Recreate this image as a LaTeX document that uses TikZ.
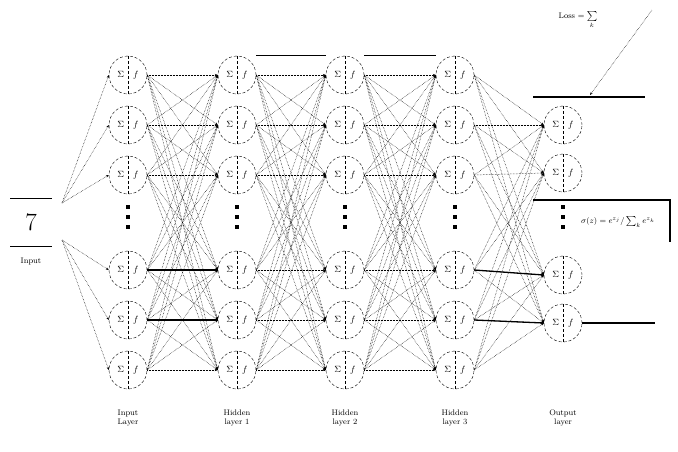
\documentclass[tikz,border=0pt]{standalone}
\usetikzlibrary{arrows.meta}
\begin{document}
\begin{tikzpicture}[x=1pt,y=-1pt,
 neuron/.style={circle,draw,densely dashed,minimum size=38pt,inner sep=0pt,font=\small},
 conn/.style={densely dotted,line width=0.5pt,-{Stealth[length=3pt]}},
 bar/.style={line width=1.3pt},
 lbl/.style={font=\footnotesize,align=center},
 dotmark/.style={fill=black,minimum size=3.2pt,inner sep=0pt}]
\useasboundingbox (0,0) rectangle (678,451);
% neurons
\foreach \l/\x in {1/128,2/237,3/345,4/455}{
  \foreach \r/\y in {1/75,2/125,3/175,4/270,5/320,6/370}{
    \node[neuron] (n\l-\r) at (\x,\y) {$\Sigma\quad f$};
    \draw[densely dashed] (n\l-\r.north) -- (n\l-\r.south);
  }
  \foreach \k/\y in {1/207,2/217,3/227}{\node[dotmark] (d\l-\k) at (\x,\y) {};}
}
\foreach \r/\y in {2/125,3/173,4/275,5/323}{
  \node[neuron] (n5-\r) at (563,\y) {$\Sigma\quad f$};
  \draw[densely dashed] (n5-\r.north) -- (n5-\r.south);
}
\foreach \k/\y in {1/207,2/217,3/227}{\node[dotmark] (d5-\k) at (563,\y) {};}
% input
\node[font=\fontsize{40}{40}\selectfont] (seven) at (31,222) {$7$};
\draw[line width=1pt] (10,198) -- (52,198) (10,246) -- (52,246);
\node[lbl] (inp) at (31,262) {Input};
\coordinate (ia) at (62,203);
\coordinate (ib) at (62,240);
\foreach \r in {1,2,3}{\draw[conn] (ia) -- (n1-\r.west);}
\foreach \r in {4,5,6}{\draw[conn] (ib) -- (n1-\r.west);}
% connections between layers
\foreach \l/\m in {1/2,2/3,3/4}{
  \foreach \r in {1,2,3,4,5,6}{
    \foreach \s in {1,2,3,4,5,6}{
      \draw[conn] (n\l-\r.east) -- (n\m-\s.west);
    }
  }
}
\foreach \r in {1,2,3,4,5,6}{
  \foreach \s in {2,3,4,5}{
    \draw[conn] (n4-\r.east) -- (n5-\s.west);
  }
}
% solid bars
\draw[bar] (n2-1.east |- n2-1.north) -- (n3-1.west |- n3-1.north);
\draw[bar] (n3-1.east |- n3-1.north) -- (n4-1.west |- n4-1.north);
\draw[bar] (n1-4.east) -- (n2-4.west);
\draw[bar] (n1-5.east) -- (n2-5.west);
\draw[bar] (n4-4.east) -- (n5-4.west);
\draw[bar] (n4-5.east) -- (n5-5.west);
\coordinate (outR) at (655,323);
\draw[bar] (n5-5.east) -- (outR);
% loss
\coordinate (lossL) at (533,97);
\coordinate (lossR) at (645,97);
\coordinate (lossM) at (590,95);
\draw[bar] (lossL) -- (lossR);
\node[font=\footnotesize] (loss) at (578,20) {Loss $=\sum\limits_{k}$};
\coordinate (lossT) at (652,10);
\draw[conn] (lossT) -- (lossM);
% softmax box
\coordinate (bxL) at (533,200);
\coordinate (bxR) at (670,200);
\coordinate (bxB) at (670,242);
\draw[bar] (bxL) -- (bxR) -- (bxB);
\node[font=\footnotesize] (soft) at (618,222) {$\sigma(z)=e^{z_j}/\sum_k e^{z_k}$};
% labels
\node[lbl] (l1) at (128,418) {Input\\Layer};
\node[lbl] (l2) at (237,418) {Hidden\\layer 1};
\node[lbl] (l3) at (345,418) {Hidden\\layer 2};
\node[lbl] (l4) at (455,418) {Hidden\\layer 3};
\node[lbl] (l5) at (563,418) {Output\\layer};
\end{tikzpicture}
\end{document}
